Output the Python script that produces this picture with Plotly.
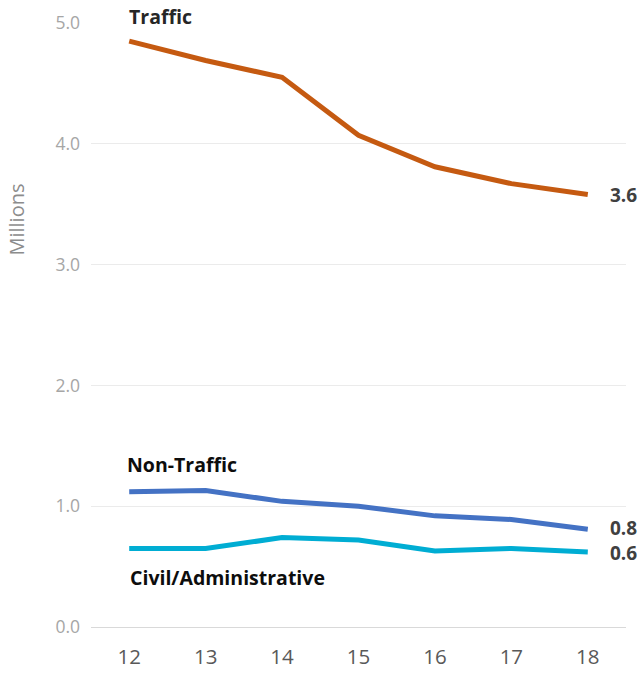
import plotly.graph_objects as go

years = ["12", "13", "14", "15", "16", "17", "18"]
traffic = [4.85, 4.69, 4.55, 4.07, 3.81, 3.67, 3.58]
non_traffic = [1.12, 1.13, 1.04, 1.00, 0.92, 0.89, 0.81]
civil = [0.65, 0.65, 0.74, 0.72, 0.63, 0.65, 0.62]
y_ticks = [0, 1, 2, 3, 4, 5]
y_tick_text = ["0.0", "1.0", "2.0", "3.0", "4.0", "5.0"]

series = [
    ("Traffic", traffic, "#C55A11"),
    ("Non-Traffic", non_traffic, "#4472C4"),
    ("Civil/Administrative", civil, "#00ADD3"),
]

FONT = "Open Sans"
fig = go.Figure()
for name, vals, color in series:
    fig.add_trace(go.Scatter(x=years, y=vals, mode="lines", name=name,
                             line=dict(color=color, width=5), showlegend=False))

last = len(years) - 1
# end value labels
end_labels = [("3.6", traffic[-1], 0), ("0.8", non_traffic[-1], 1), ("0.6", civil[-1], -1)]
for txt, v, dy in end_labels:
    fig.add_annotation(x=last, y=v, text="<b>%s</b>" % txt, showarrow=False,
                       xanchor="left", yanchor="middle", xshift=20, yshift=dy,
                       font=dict(family=FONT, size=19, color="#404040"))

# series name labels
fig.add_annotation(x=0, y=traffic[0], text="<b>Traffic</b>", showarrow=False,
                   xanchor="left", yanchor="middle", xshift=-2, yshift=25,
                   font=dict(family=FONT, size=19.5, color="#262626"))
fig.add_annotation(x=0, y=non_traffic[0], text="<b>Non-Traffic</b>", showarrow=False,
                   xanchor="left", yanchor="middle", xshift=-4, yshift=27,
                   font=dict(family=FONT, size=19.5, color="#0D0D0D"))
fig.add_annotation(x=0, y=civil[0], text="<b>Civil/Administrative</b>", showarrow=False,
                   xanchor="left", yanchor="middle", xshift=-1, yshift=-29,
                   font=dict(family=FONT, size=19.5, color="#0D0D0D"))

# axis title
fig.add_annotation(xref="paper", yref="paper", x=-0.139, y=0.674, text="Millions",
                   textangle=-90, showarrow=False, xanchor="center", yanchor="middle",
                   font=dict(family=FONT, size=20, color="#8C8C8C"))

fig.update_layout(
    width=642, height=673,
    margin=dict(l=91, r=16, t=23, b=46),
    plot_bgcolor="white", paper_bgcolor="white",
    font=dict(family=FONT),
    xaxis=dict(type="category", range=[-0.5, 6.5], showgrid=False, showline=False,
               ticks="", tickfont=dict(size=20.5, color="#595959"),
               ticklabelstandoff=15, automargin=False),
    yaxis=dict(range=[0, 5], tickvals=y_ticks, ticktext=y_tick_text,
               showgrid=True, gridcolor="#EBEBEB", gridwidth=1,
               zeroline=True, zerolinecolor="#D9D9D9", zerolinewidth=1,
               tickfont=dict(size=17.5, color="#A6A6A6"), ticklabelstandoff=10,
               automargin=False),
)
fig.write_html("out.html", config={"displayModeBar": False},
               post_script="document.body.style.margin='0';")
